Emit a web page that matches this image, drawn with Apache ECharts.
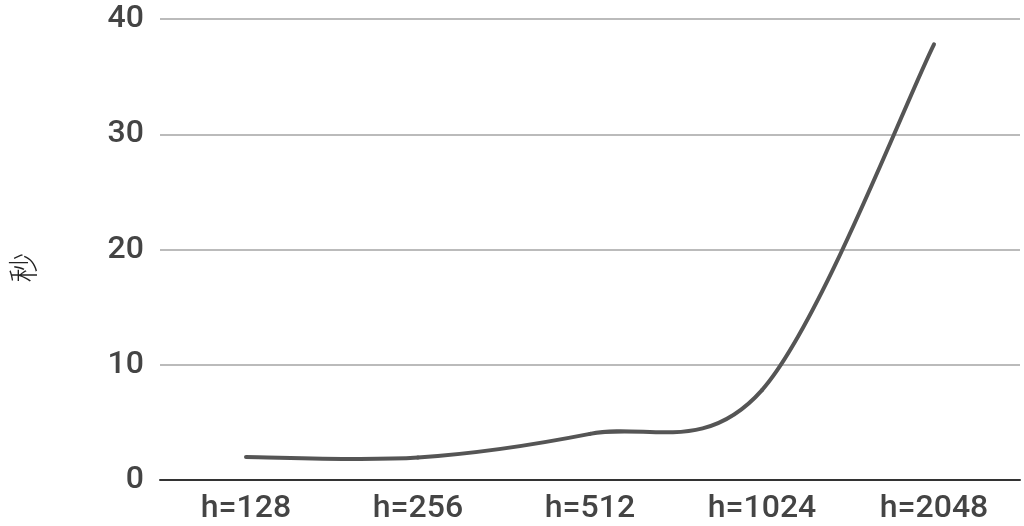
<!DOCTYPE html>
<html>
<head>
<meta charset="utf-8">
<script src="https://cdn.jsdelivr.net/npm/echarts@6/dist/echarts.min.js"></script>
<style>html,body{margin:0;padding:0;background:#fff}#c{width:1024px;height:526px}</style>
</head>
<body>
<div id="c"></div>
<script>
const categories = ['h=128', 'h=256', 'h=512', 'h=1024', 'h=2048'];
const seconds = [2.0, 1.95, 4.0, 7.8, 37.8];
const yTicks = { min: 0, max: 40, interval: 10 };
const yName = '秒';

// Catmull-Rom style smoothing between data points, positions via the chart's own axes
function renderSegment(params, api) {
  const i = params.dataIndex;
  if (i >= seconds.length - 1) return null;
  const pt = k => api.coord([Math.max(0, Math.min(seconds.length - 1, k)), seconds[Math.max(0, Math.min(seconds.length - 1, k))]]);
  const p0 = pt(i - 1), p1 = pt(i), p2 = pt(i + 1), p3 = pt(i + 2);
  const c1 = [p1[0] + (p2[0] - p0[0]) / 6, p1[1] + (p2[1] - p0[1]) / 6];
  const c2 = [p2[0] - (p3[0] - p1[0]) / 6, p2[1] - (p3[1] - p1[1]) / 6];
  return {
    type: 'bezierCurve',
    shape: { x1: p1[0], y1: p1[1], x2: p2[0], y2: p2[1], cpx1: c1[0], cpy1: c1[1], cpx2: c2[0], cpy2: c2[1] },
    style: { stroke: '#555', lineWidth: 4, fill: null, lineCap: 'round' }
  };
}

const chart = echarts.init(document.getElementById('c'));
chart.setOption({
  animation: false,
  grid: { left: 159, right: 4, top: 19, bottom: 46 },
  xAxis: {
    type: 'category',
    data: categories,
    boundaryGap: true,
    axisLine: { show: true, lineStyle: { color: '#333', width: 2 } },
    axisTick: { show: false },
    axisLabel: { color: '#444', fontSize: 32, fontWeight: 500, fontFamily: 'Roboto', margin: 13 },
    splitLine: { show: false }
  },
  yAxis: {
    type: 'value',
    min: yTicks.min, max: yTicks.max, interval: yTicks.interval,
    name: yName,
    nameLocation: 'middle',
    nameGap: 122,
    nameRotate: 90,
    nameTextStyle: { color: '#222', fontSize: 30, fontFamily: 'Noto Sans CJK SC', fontWeight: 300, padding: [0, 36, 0, 0] },
    axisLine: { show: false },
    axisTick: { show: false },
    axisLabel: { color: '#444', fontSize: 32, fontWeight: 500, fontFamily: 'Roboto', margin: 16 },
    splitLine: { lineStyle: { color: '#bbb', width: 2 } }
  },
  series: [{
    type: 'custom',
    renderItem: renderSegment,
    data: seconds.map((v, i) => [i, v]),
    encode: { x: 0, y: 1 }
  }]
});
</script>
</body>
</html>
